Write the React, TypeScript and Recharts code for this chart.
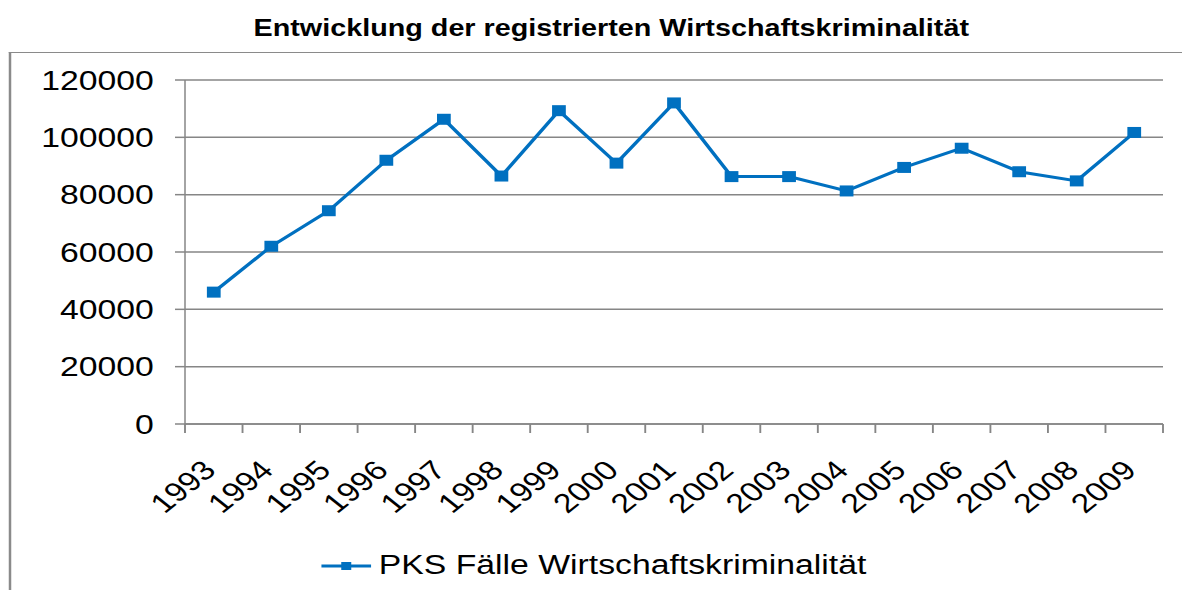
import { LineChart, Line, XAxis, YAxis, CartesianGrid, Legend } from 'recharts'

const years = [
  '1993', '1994', '1995', '1996', '1997', '1998', '1999', '2000', '2001',
  '2002', '2003', '2004', '2005', '2006', '2007', '2008', '2009',
]
const cases = [
  46000, 62000, 74400, 92000, 106300, 86500, 109300, 91000, 112000,
  86300, 86300, 81300, 89500, 96200, 88000, 84800, 101700,
]
const yTicks = [0, 20000, 40000, 60000, 80000, 100000, 120000]
const seriesName = 'PKS Fälle Wirtschaftskriminalität'
const title = 'Entwicklung der registrierten Wirtschaftskriminalität'

// the original picture is stretched sideways, so the chart is drawn narrower and scaled
const STRETCH = 1.25
const W = 946
const H = 590
const FONT = '"Liberation Sans", Arial, sans-serif'
const BLUE = '#0070C0'
const GRAY = '#868686'

const data = years.map((year, i) => ({ year, value: cases[i] }))

const SquareDot = (p: any) => {
  if (p.cx == null || p.cy == null) return <g key={p.index} />
  return <rect key={p.index} x={p.cx - 5.5} y={p.cy - 5.5} width={11} height={11} fill={BLUE} />
}

const YTick = ({ x, y, payload }: any) => (
  <text x={x - 15} y={y} dy="0.355em" textAnchor="end" fontSize={27} fill="#000" fontFamily={FONT}>
    {payload.value}
  </text>
)

// label at the band centre, tick marks on the band edges (Excel style)
const XTick = ({ x, y, payload, index }: any) => {
  const half = payload.offset ?? 0
  return (
    <g>
      <line x1={x - half} x2={x - half} y1={y} y2={y + 9} stroke={GRAY} strokeWidth={1.5} />
      {index === years.length - 1 && (
        <line x1={x + half} x2={x + half} y1={y} y2={y + 9} stroke={GRAY} strokeWidth={1.5} />
      )}
      <g transform={`translate(${x + 3},${y + 48})`}>
        <text textAnchor="end" transform="rotate(-45)" fontSize={27} fill="#000" fontFamily={FONT}>
          {payload.value}
        </text>
      </g>
    </g>
  )
}

const LegendContent = () => (
  <div style={{ display: 'flex', alignItems: 'center', fontFamily: FONT, fontSize: 27, color: '#000', lineHeight: '31px' }}>
    <svg width={40} height={12}>
      <line x1={0} y1={6} x2={40} y2={6} stroke={BLUE} strokeWidth={3} />
      <rect x={16} y={2} width={8} height={8} fill={BLUE} />
    </svg>
    <span style={{ marginLeft: 6, whiteSpace: 'nowrap' }}>{seriesName}</span>
  </div>
)

export default function App() {
  return (
    <div style={{ position: 'absolute', left: 0, top: 0, width: 1182, height: H, overflow: 'hidden', background: '#fff' }}>
      <div style={{ position: 'relative', width: W, height: H, transform: `scale(${STRETCH},1)`, transformOrigin: '0 0' }}>
        <div
          style={{
            position: 'absolute',
            left: 7,
            top: 52,
            width: W,
            height: H,
            borderLeft: '2.4px solid #8a8a8a',
            borderTop: '1px solid #8a8a8a',
          }}
        />
        <div
          style={{
            position: 'absolute',
            left: 0,
            top: 17,
            width: 978,
            textAlign: 'center',
            fontFamily: FONT,
            fontWeight: 'bold',
            fontSize: 23,
            lineHeight: '23px',
            color: '#000',
            whiteSpace: 'nowrap',
          }}
        >
          {title}
        </div>
        <LineChart width={W} height={H} data={data} margin={{ top: 80, right: 15.6, left: 0, bottom: 0 }}>
          <CartesianGrid vertical={false} stroke={GRAY} strokeWidth={1.5} />
          <XAxis
            dataKey="year"
            scale="band"
            height={166}
            tick={<XTick />}
            tickSize={0}
            tickMargin={0}
            interval={0}
            tickLine={false}
            axisLine={{ stroke: GRAY, strokeWidth: 1.5 }}
          />
          <YAxis
            type="number"
            domain={[0, 120000]}
            ticks={yTicks}
            width={148}
            tickSize={8}
            tick={<YTick />}
            interval={0}
            axisLine={{ stroke: GRAY, strokeWidth: 1.2 }}
            tickLine={{ stroke: GRAY, strokeWidth: 1.5 }}
          />
          <Legend
            verticalAlign="middle"
            align="center"
            layout="horizontal"
            content={<LegendContent />}
            wrapperStyle={{ left: 257, top: 550, width: 'auto' }}
          />
          <Line
            type="linear"
            dataKey="value"
            name={seriesName}
            stroke={BLUE}
            strokeWidth={3}
            dot={SquareDot}
            activeDot={false}
            isAnimationActive={false}
          />
        </LineChart>
      </div>
    </div>
  )
}
